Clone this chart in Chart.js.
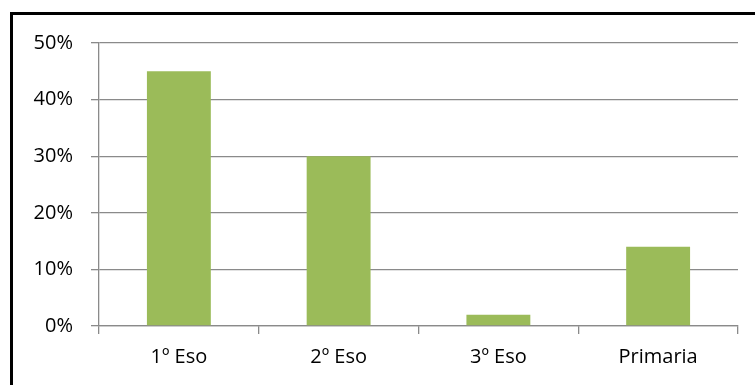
<!DOCTYPE html>
<html>
<head>
<meta charset="utf-8">
<script src="https://cdn.jsdelivr.net/npm/chart.js@4"></script>
<style>
  html, body { margin: 0; padding: 0; background: #fff; overflow: hidden; }
  #wrap { position: relative; width: 755px; height: 385px; }
  #frame { position: absolute; left: 10px; top: 12px; width: 800px; height: 400px;
           border-left: 3px solid #000; border-top: 3px solid #000; box-sizing: border-box; }
  canvas { position: absolute; left: 0; top: 0; }
</style>
</head>
<body>
<div id="wrap">
  <div id="frame"></div>
  <canvas id="chart" width="755" height="385"></canvas>
</div>
<script>
// chart data
const categories = ['1º Eso', '2º Eso', '3º Eso', 'Primaria'];
const values = [45, 30, 2, 14];
const y_ticks = [0, 10, 20, 30, 40, 50];

const grid_color = '#8a8a8a';
const bar_color = '#9bbb59';

function getBarConfig(labels, data) {
    let config = {
        type: 'bar',
        data: {
            labels: labels,
            datasets: [{
                data: data,
                backgroundColor: bar_color,
                borderWidth: 0,
                categoryPercentage: 0.4,
                barPercentage: 1.0
            }]
        },
        options: {
            responsive: false,
            animation: false,
            layout: { padding: { top: 43, right: 17, left: 0, bottom: 0 } },
            plugins: { legend: { display: false }, tooltip: { enabled: false } },
            scales: {
                x: {
                    grid: { display: true, drawOnChartArea: false, drawTicks: true, tickLength: 8, offset: true, color: grid_color, lineWidth: 1.3 },
                    border: { display: true, color: grid_color, width: 1.3 },
                    ticks: { color: '#000', font: { family: 'Open Sans', size: 20 }, padding: 11 },
                    afterFit: function(scale) { scale.height = 59; }
                },
                y: {
                    min: 0,
                    max: 50,
                    afterBuildTicks: function(scale) { scale.ticks = y_ticks.map(v => ({ value: v })); },
                    grid: { color: grid_color, lineWidth: 1.3, drawTicks: true, tickLength: 8 },
                    border: { display: true, color: grid_color, width: 1.3 },
                    ticks: { color: '#000', font: { family: 'Open Sans', size: 20 }, padding: 18,
                             callback: function(v) { return v + '%'; } },
                    afterFit: function(scale) { scale.width = 99; }
                }
            }
        }
    };
    return config;
}

let ctx = document.getElementById('chart').getContext('2d');
let chart = new Chart(ctx, getBarConfig(categories, values));
</script>
</body>
</html>
